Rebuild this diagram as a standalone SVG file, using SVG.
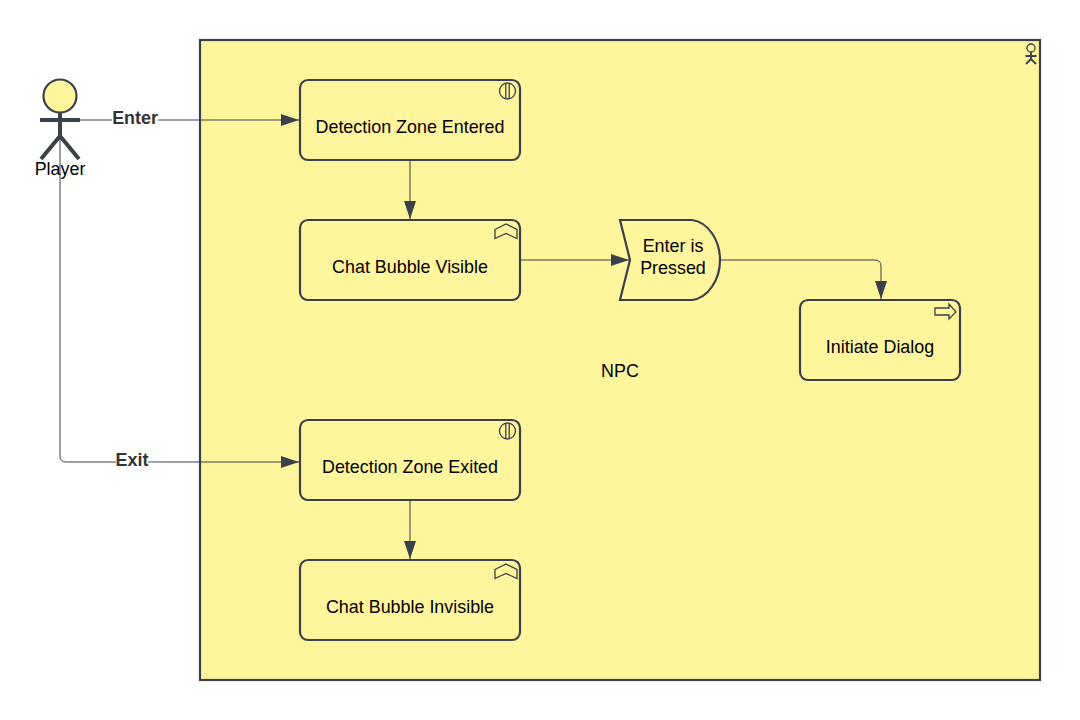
<svg xmlns="http://www.w3.org/2000/svg" width="1080" height="720" viewBox="0 0 1080 720">
<style>
text{font-family:"Liberation Sans",Arial,sans-serif;font-size:17.9px;fill:#000;text-anchor:middle}
.shape{fill:#fff59d;stroke:#3a414a;stroke-width:2.200}
.icon{fill:none;stroke:#3a414a;stroke-width:1.300}
.conn{fill:none;stroke:#3a414a;stroke-width:1;marker-end:url(#arrow)}
.lbl{font-weight:bold;fill:#333}
</style>
<defs>
<marker id="arrow" markerUnits="userSpaceOnUse" markerWidth="18" markerHeight="12" refX="18" refY="6" orient="auto"><path d="M0 0L18 6L0 12Z" fill="#3a414a"/></marker>
<g id="evt"><circle cx="8.500" cy="8" r="8" class="icon"/><path d="M6.800 0.500V15.500M10.200 0.500V15.500" class="icon"/></g>
<path id="fn" d="M0 5.500L11 0L22 5.500V14.500L11 9.500L0 14.500Z" class="icon"/>
</defs>
<g id="npc"><rect x="200" y="40" width="840" height="640" class="shape"/>
<g class="icon"><circle cx="1031" cy="48" r="4"/><path d="M1031 52V60M1025.500 56H1036.500M1031 59L1026 64M1031 59L1036 64" stroke-width="1.800"/></g>
<text x="620" y="376.500">NPC</text></g>
<g id="connectors">
<path class="conn" d="M80 120H299"/>
<path class="conn" d="M60 120V456Q60 462 66 462H299"/>
<path class="conn" d="M410 160V219"/>
<path class="conn" d="M520 260H629"/>
<path class="conn" d="M720 260H875Q881 260 881 266V299"/>
<path class="conn" d="M410 500V559"/>
</g>
<g id="player"><circle cx="60" cy="96" r="16.500" class="shape"/><path d="M40 120H80M60 112V136L41 159M60 136L79 159" fill="none" stroke="#3a414a" stroke-width="4"/><text x="60" y="174.500">Player</text></g>
<g id="lbl-enter"><rect x="112" y="110" width="46" height="16" fill="#fff"/><text x="135" y="123.500" class="lbl">Enter</text></g>
<g id="lbl-exit"><rect x="116" y="452" width="32" height="16" fill="#fff"/><text x="132" y="465.500" class="lbl">Exit</text></g>
<g id="n1"><rect x="300" y="80" width="220" height="80" rx="8" class="shape"/><use href="#evt" x="499" y="83"/><text x="410" y="132.500">Detection Zone Entered</text></g>
<g id="n2"><rect x="300" y="220" width="220" height="80" rx="8" class="shape"/><use href="#fn" x="495" y="224"/><text x="410" y="272.500">Chat Bubble Visible</text></g>
<g id="n3"><path d="M620 220H692C708 222 720 240 720 260C720 280 708 298 692 300H620L630 260Z" class="shape"/><text x="673" y="252">Enter is</text><text x="673" y="273.500">Pressed</text></g>
<g id="n4"><rect x="800" y="300" width="160" height="80" rx="8" class="shape"/><path d="M935 308H949V304L956 312L949 319V315H935Z" class="icon"/><text x="880" y="352.500">Initiate Dialog</text></g>
<g id="n5"><rect x="300" y="420" width="220" height="80" rx="8" class="shape"/><use href="#evt" x="499" y="423"/><text x="410" y="472.500">Detection Zone Exited</text></g>
<g id="n6"><rect x="300" y="560" width="220" height="80" rx="8" class="shape"/><use href="#fn" x="495" y="564"/><text x="410" y="612.500">Chat Bubble Invisible</text></g>
</svg>
